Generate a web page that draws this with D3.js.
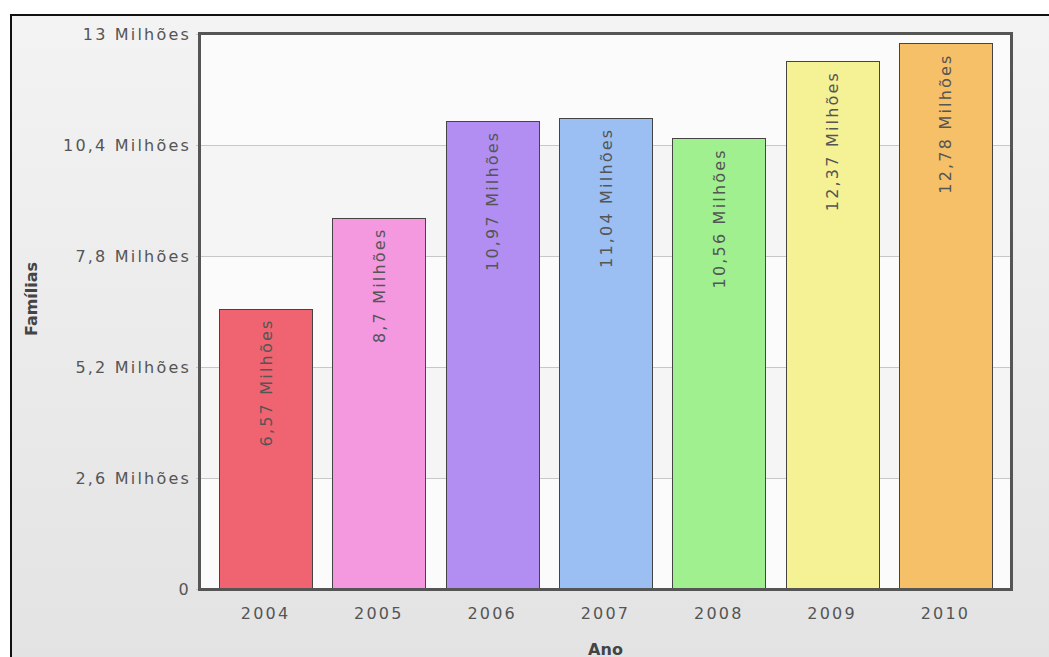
<!DOCTYPE html>
<html>
<head>
<meta charset="utf-8">
<script src="https://cdn.jsdelivr.net/npm/d3@7"></script>
<style>
  html, body { margin: 0; padding: 0; background: #fff; }
  svg { display: block; font-family: Verdana, "DejaVu Sans", sans-serif; }
</style>
</head>
<body>
<svg id="chart" width="1049" height="657"></svg>
<script>
// data
const years  = ['2004', '2005', '2006', '2007', '2008', '2009', '2010'];
const values = [6.57, 8.7, 10.97, 11.04, 10.56, 12.37, 12.78];
const labels = ['6,57 Milhões', '8,7 Milhões', '10,97 Milhões', '11,04 Milhões',
                '10,56 Milhões', '12,37 Milhões', '12,78 Milhões'];
const colors = ['#f06472', '#f498e0', '#b28ef2', '#9bbff2', '#a0f090', '#f5f195', '#f5c068'];
const yTicks = [0, 2.6, 5.2, 7.8, 10.4, 13];
const yTickLabels = ['0', '2,6 Milhões', '5,2 Milhões', '7,8 Milhões', '10,4 Milhões', '13 Milhões'];

const W = 1049, H = 657;
const plot = {left: 200, right: 1011, top: 34, bottom: 589};
const fs = 16, ls = 2.2;

const svg = d3.select('#chart');
const defs = svg.append('defs');
const grad = defs.append('linearGradient').attr('id', 'bg').attr('x1', 0).attr('y1', 0).attr('x2', 0).attr('y2', 1);
grad.append('stop').attr('offset', '0%').attr('stop-color', '#f3f3f3');
grad.append('stop').attr('offset', '100%').attr('stop-color', '#e3e3e3');

// outer frame
svg.append('rect').attr('x', 10).attr('y', 14).attr('width', W - 10).attr('height', H - 14).attr('fill', 'url(#bg)');
svg.append('path').attr('d', `M11,${H} V15 H${W}`).attr('fill', 'none').attr('stroke', '#111').attr('stroke-width', 2);

const x = d3.scaleBand().domain(years).range([plot.left + 1, plot.right - 1])
  .paddingInner(0.18).paddingOuter(0.16);
const y = d3.scaleLinear().domain([0, 13]).range([plot.bottom, plot.top]);

// plot background with alternating bands
svg.append('rect').attr('x', plot.left).attr('y', plot.top)
  .attr('width', plot.right - plot.left).attr('height', plot.bottom - plot.top).attr('fill', '#fff');
svg.selectAll('.band').data(d3.pairs(yTicks)).enter().append('rect')
  .attr('x', plot.left).attr('width', plot.right - plot.left)
  .attr('y', d => y(d[1])).attr('height', d => y(d[0]) - y(d[1]))
  .attr('fill', (d, i) => i % 2 === 0 ? '#fbfbfb' : '#f5f5f5');

// grid lines
svg.selectAll('.grid').data(yTicks).enter().append('line')
  .attr('x1', plot.left - 4).attr('x2', plot.right)
  .attr('y1', d => Math.round(y(d)) + 0.5).attr('y2', d => Math.round(y(d)) + 0.5)
  .attr('stroke', '#c8c8c8');

// bars
svg.selectAll('.bar').data(years).enter().append('rect')
  .attr('x', d => Math.round(x(d)) + 0.5)
  .attr('y', (d, i) => Math.round(y(values[i])) + 0.5)
  .attr('width', Math.round(x.bandwidth()))
  .attr('height', (d, i) => Math.round(y(0)) - Math.round(y(values[i])))
  .attr('fill', (d, i) => colors[i])
  .attr('stroke', '#444').attr('stroke-width', 1);

// value labels
svg.selectAll('.val').data(years).enter().append('text')
  .attr('transform', (d, i) => `translate(${x(d) + x.bandwidth() / 2 + 6},${y(values[i]) + 10}) rotate(-90)`)
  .attr('text-anchor', 'end')
  .attr('font-size', fs).attr('letter-spacing', ls)
  .attr('fill', '#555')
  .text((d, i) => labels[i]);

// plot border
svg.append('rect').attr('x', plot.left - 0.5).attr('y', plot.top - 0.5)
  .attr('width', plot.right - plot.left + 1).attr('height', plot.bottom - plot.top + 1)
  .attr('fill', 'none').attr('stroke', '#555').attr('stroke-width', 3);

// y tick labels
svg.selectAll('.ytl').data(yTicks).enter().append('text')
  .attr('x', plot.left - 9).attr('y', d => y(d) + 6)
  .attr('text-anchor', 'end').attr('font-size', fs).attr('letter-spacing', ls)
  .attr('fill', '#555')
  .text((d, i) => yTickLabels[i]);

// x tick labels
svg.selectAll('.xtl').data(years).enter().append('text')
  .attr('x', d => x(d) + x.bandwidth() / 2).attr('y', 619)
  .attr('text-anchor', 'middle').attr('font-size', fs).attr('letter-spacing', ls)
  .attr('fill', '#555')
  .text(d => d);

// axis titles
svg.append('text').attr('transform', 'translate(37,299) rotate(-90)')
  .attr('text-anchor', 'middle').attr('font-size', 16).attr('font-weight', 'bold')
  .attr('fill', '#444').text('Famílias');
svg.append('text').attr('x', (plot.left + plot.right) / 2).attr('y', 655)
  .attr('text-anchor', 'middle').attr('font-size', 16).attr('font-weight', 'bold')
  .attr('fill', '#444').text('Ano');
</script>
</body>
</html>
